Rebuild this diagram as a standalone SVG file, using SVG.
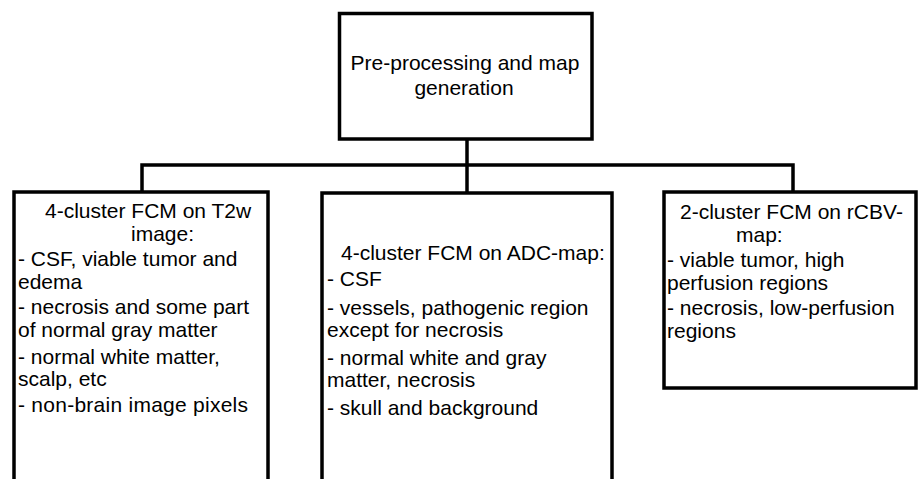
<svg xmlns="http://www.w3.org/2000/svg" width="920" height="479" viewBox="0 0 920 479">
<style>
.box{fill:#fff;stroke:#000;stroke-width:3.5}
.con{fill:none;stroke:#000;stroke-width:3.5;stroke-linejoin:miter}
text{font-family:"Liberation Sans",Arial,sans-serif;font-size:21px;fill:#000}
.c{text-anchor:middle}
</style>
<rect width="920" height="479" fill="#fff"/>
<g id="connectors">
<path class="con" d="M467,139 V193"/>
<path class="con" d="M142,192 V165 H793 V192"/>
</g>
<g id="node-preprocessing">
<rect class="box" x="339.5" y="13.5" width="252.5" height="125.5"/>
<text class="c" x="465" y="70">Pre-processing and map</text>
<text class="c" x="464" y="95">generation</text>
</g>
<g id="node-t2w">
<rect class="box" x="14" y="192" width="254" height="300"/>
<text x="45" y="218">4-cluster FCM on T2w</text>
<text x="131" y="241">image:</text>
<text x="18" y="266">- CSF, viable tumor and</text>
<text x="18" y="289">edema</text>
<text x="18" y="314">- necrosis and some part</text>
<text x="18" y="337">of normal gray matter</text>
<text x="18" y="364">- normal white matter,</text>
<text x="18" y="386">scalp, etc</text>
<text x="18" y="412" textLength="230" lengthAdjust="spacing">- non-brain image pixels</text>
</g>
<g id="node-adc">
<rect class="box" x="322" y="193" width="290" height="300"/>
<text x="341" y="260">4-cluster FCM on ADC-map:</text>
<text x="327" y="286">- CSF</text>
<text x="327" y="315">- vessels, pathogenic region</text>
<text x="327" y="337">except for necrosis</text>
<text x="327" y="365">- normal white and gray</text>
<text x="327" y="387">matter, necrosis</text>
<text x="327" y="415">- skull and background</text>
</g>
<g id="node-rcbv">
<rect class="box" x="664" y="192" width="252" height="196"/>
<text x="680" y="219">2-cluster FCM on rCBV-</text>
<text x="736" y="242">map:</text>
<text x="667" y="267">- viable tumor, high</text>
<text x="667" y="290">perfusion regions</text>
<text x="667" y="315">- necrosis, low-perfusion</text>
<text x="667" y="338">regions</text>
</g>
</svg>
